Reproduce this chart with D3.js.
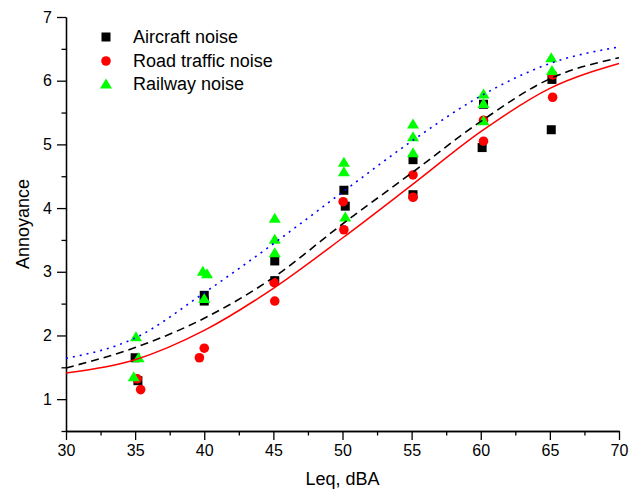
<!DOCTYPE html>
<html>
<head>
<meta charset="utf-8">
<script src="https://cdn.jsdelivr.net/npm/d3@7"></script>
<style>
	body { margin: 0; background: #fff; }
	svg { display: block; font-family: Arial, "Liberation Sans", sans-serif; }
	.axis path, .axis line { stroke: #000; stroke-width: 1.3; }
	.axis text { font-size: 16px; fill: #000; font-family: Arial, "Liberation Sans", sans-serif; }
</style>
</head>
<body>
<div id="chart"></div>
<script>
var aircraftX = [35.0, 35.2, 40.0, 40.0, 45.1, 45.1, 50.1, 50.2, 55.1, 55.1, 60.2, 60.1, 65.15, 65.1];
var aircraftY = [1.65, 1.29, 2.63, 2.54, 3.17, 2.86, 4.28, 4.03, 4.76, 4.21, 5.63, 4.95, 6.02, 5.23];

var roadX = [35.15, 35.4, 39.65, 40.0, 45.05, 45.1, 50.05, 50.1, 55.1, 55.1, 60.2, 60.2, 65.2, 65.2];
var roadY = [1.32, 1.15, 1.65, 1.80, 2.83, 2.54, 4.10, 3.66, 4.52, 4.17, 5.38, 5.05, 6.09, 5.74];

var railX = [35.06, 35.25, 34.9, 39.9, 40.2, 40.0, 45.1, 45.1, 45.1, 50.1, 50.1, 50.2, 55.1, 55.1, 55.1, 60.2, 60.2, 60.2, 65.1, 65.15];
var railY = [1.98, 1.65, 1.35, 3.01, 2.97, 2.58, 3.84, 3.51, 3.30, 4.72, 4.57, 3.86, 5.32, 5.12, 4.87, 5.79, 5.64, 5.37, 6.36, 6.16];

// fitted curves, sampled from the figure
var fitX = [30, 35, 40, 45, 50, 55, 60, 65, 70];
var aircraftFit = [1.49, 1.81, 2.27, 2.91, 3.75, 4.55, 5.36, 6.03, 6.36];
var roadFit = [1.41, 1.62, 2.08, 2.74, 3.53, 4.36, 5.20, 5.88, 6.27];
var railFit = [1.64, 1.96, 2.67, 3.44, 4.25, 5.05, 5.76, 6.27, 6.53];

var xMajor = [30, 35, 40, 45, 50, 55, 60, 65, 70];
var xMinor = [32.5, 37.5, 42.5, 47.5, 52.5, 57.5, 62.5, 67.5];
var yMajor = [1, 2, 3, 4, 5, 6, 7];
var yMinor = [0.5, 1.5, 2.5, 3.5, 4.5, 5.5, 6.5];

var legendNames = ['Aircraft noise', 'Road traffic noise', 'Railway noise'];

var width = 637, height = 491;
var margin = {top: 17, right: 18, bottom: 60, left: 66};

var x = d3.scaleLinear().domain([30, 70]).range([margin.left, width - margin.right]);
var y = d3.scaleLinear().domain([0.5, 7]).range([height - margin.bottom, margin.top]);

var svg = d3.select('#chart').append('svg')
	.attr('width', width)
	.attr('height', height);

// axes
svg.append('g')
	.attr('class', 'axis')
	.attr('transform', 'translate(0,' + y(0.5) + ')')
	.call(d3.axisBottom(x).tickValues(xMinor).tickSize(4.5).tickSizeOuter(0).tickFormat(''));
svg.append('g')
	.attr('class', 'axis')
	.attr('transform', 'translate(0,' + y(0.5) + ')')
	.call(d3.axisBottom(x).tickValues(xMajor).tickSize(9).tickSizeOuter(0).tickPadding(5).tickFormat(d3.format('d')));

svg.append('g')
	.attr('class', 'axis')
	.attr('transform', 'translate(' + x(30) + ',0)')
	.call(d3.axisLeft(y).tickValues(yMinor).tickSize(4.5).tickSizeOuter(0).tickFormat(''));
svg.append('g')
	.attr('class', 'axis')
	.attr('transform', 'translate(' + x(30) + ',0)')
	.call(d3.axisLeft(y).tickValues(yMajor).tickSize(9).tickSizeOuter(0).tickPadding(5).tickFormat(d3.format('d')));

// axis titles
svg.append('text')
	.attr('x', (x(30) + x(70)) / 2)
	.attr('y', 485)
	.attr('text-anchor', 'middle')
	.style('font-size', '18px')
	.text('Leq, dBA');
svg.append('text')
	.attr('transform', 'translate(29,' + (y(0.5) + y(7)) / 2 + ') rotate(-90)')
	.attr('text-anchor', 'middle')
	.style('font-size', '18px')
	.text('Annoyance');

// markers
var sq = 9, circR = 4.8;
var triPath = 'M0,-5.5 L6,4.5 L-6,4.5 Z';

svg.append('g').selectAll('rect')
	.data(d3.range(aircraftX.length))
	.enter().append('rect')
	.attr('x', function(i) { return x(aircraftX[i]) - sq / 2; })
	.attr('y', function(i) { return y(aircraftY[i]) - sq / 2; })
	.attr('width', sq)
	.attr('height', sq)
	.attr('fill', '#000');

svg.append('g').selectAll('circle')
	.data(d3.range(roadX.length))
	.enter().append('circle')
	.attr('cx', function(i) { return x(roadX[i]); })
	.attr('cy', function(i) { return y(roadY[i]); })
	.attr('r', circR)
	.attr('fill', '#ff0000');

svg.append('g').selectAll('path')
	.data(d3.range(railX.length))
	.enter().append('path')
	.attr('transform', function(i) { return 'translate(' + x(railX[i]) + ',' + y(railY[i]) + ')'; })
	.attr('d', triPath)
	.attr('fill', '#00ff00');

// fitted curves
var line = function(vals) {
	return d3.line()
		.x(function(d, i) { return x(fitX[i]); })
		.y(function(d) { return y(d); })
		.curve(d3.curveMonotoneX)(vals);
};

svg.append('path')
	.attr('d', line(roadFit))
	.attr('fill', 'none')
	.attr('stroke', '#ff0000')
	.attr('stroke-width', 1.5);
svg.append('path')
	.attr('d', line(aircraftFit))
	.attr('fill', 'none')
	.attr('stroke', '#000')
	.attr('stroke-width', 1.6)
	.attr('stroke-dasharray', '8,5');
svg.append('path')
	.attr('d', line(railFit))
	.attr('fill', 'none')
	.attr('stroke', '#0000ff')
	.attr('stroke-width', 1.6)
	.attr('stroke-dasharray', '2,5');

// legend
var legend = svg.append('g').attr('transform', 'translate(106,0)');
var rowsY = [37, 61, 84];

legend.append('rect')
	.attr('x', -sq / 2).attr('y', rowsY[0] - sq / 2)
	.attr('width', sq).attr('height', sq)
	.attr('fill', '#000');
legend.append('circle')
	.attr('cx', 0).attr('cy', rowsY[1])
	.attr('r', circR)
	.attr('fill', '#ff0000');
legend.append('path')
	.attr('transform', 'translate(0,' + rowsY[2] + ')')
	.attr('d', triPath)
	.attr('fill', '#00ff00');

legend.selectAll('text')
	.data(legendNames)
	.enter().append('text')
	.attr('x', 27)
	.attr('y', function(d, i) { return rowsY[i]; })
	.attr('dy', '0.36em')
	.style('font-size', '18px')
	.text(function(d) { return d; });
</script>
</body>
</html>
